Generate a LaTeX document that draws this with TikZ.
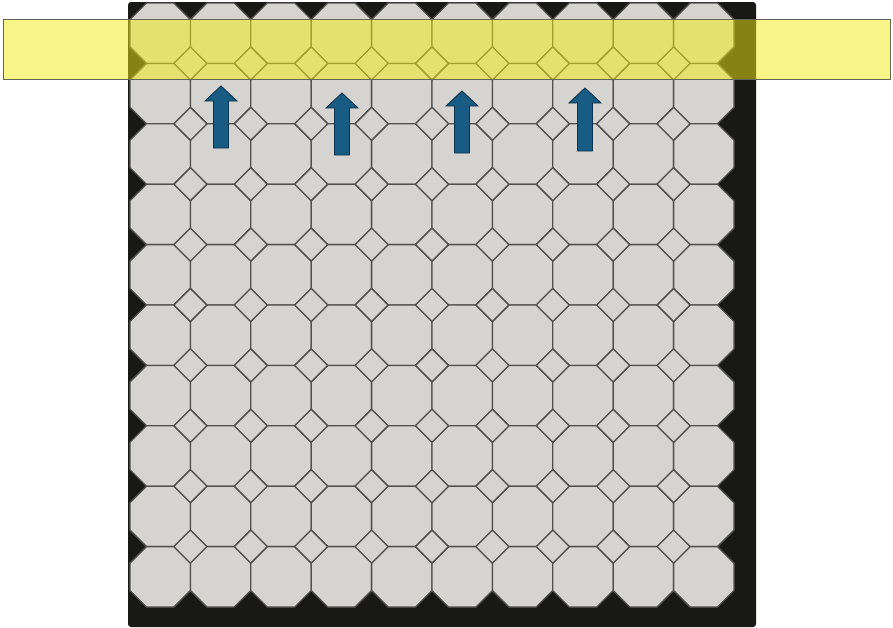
\documentclass[tikz,border=0pt]{standalone}
\begin{document}
\begin{tikzpicture}[x=1pt,y=-1pt,
  tile/.style={fill=tilegray,draw=linegray,line width=1.3pt,line join=miter},
  band/.style={fill=bandyellow,fill opacity=0.5,draw=bandline,line width=1pt},
  uparrow/.style={fill=arrowblue,draw=arrowline,line width=0.9pt,line join=miter}]
\definecolor{tilegray}{RGB}{214,212,208}
\definecolor{linegray}{RGB}{80,80,78}
\definecolor{bgblack}{RGB}{24,24,22}
\definecolor{bandyellow}{RGB}{245,238,20}
\definecolor{bandline}{RGB}{100,100,80}
\definecolor{arrowblue}{RGB}{24,92,132}
\definecolor{arrowline}{RGB}{15,50,75}
\useasboundingbox (0,0) rectangle (893,627);
\fill[white] (0,0) rectangle (893,627);
% black backing
\fill[bgblack,rounded corners=3pt] (128,2) rectangle (756,627);
\def\px{60.4}
\def\cc{16.5}
% octagons
\foreach \i in {0,...,9}{
  \foreach \j in {0,...,9}{
    \pgfmathsetmacro{\xa}{130+\i*\px}
    \pgfmathsetmacro{\ya}{3+\j*\px}
    \draw[tile] (\xa+\cc,\ya) -- (\xa+\px-\cc,\ya) -- (\xa+\px,\ya+\cc) -- (\xa+\px,\ya+\px-\cc)
      -- (\xa+\px-\cc,\ya+\px) -- (\xa+\cc,\ya+\px) -- (\xa,\ya+\px-\cc) -- (\xa,\ya+\cc) -- cycle;
  }
}
% interior diamonds
\foreach \i in {1,...,9}{
  \foreach \j in {1,...,9}{
    \pgfmathsetmacro{\xa}{130+\i*\px}
    \pgfmathsetmacro{\ya}{3+\j*\px}
    \draw[tile] (\xa-\cc,\ya) -- (\xa,\ya-\cc) -- (\xa+\cc,\ya) -- (\xa,\ya+\cc) -- cycle;
  }
}
% arrows: center x, tip y, bottom y
\foreach \cx/\ty/\by in {221/86/148, 342/93/155, 462/91/153, 585/88/151}{
  \draw[uparrow] (\cx-7.5,\by) -- (\cx+7.5,\by) -- (\cx+7.5,\ty+15) -- (\cx+16,\ty+15)
    -- (\cx,\ty) -- (\cx-16,\ty+15) -- (\cx-7.5,\ty+15) -- cycle;
}
% yellow band
\draw[band] (3,19) rectangle (890,79);
\end{tikzpicture}
\end{document}
